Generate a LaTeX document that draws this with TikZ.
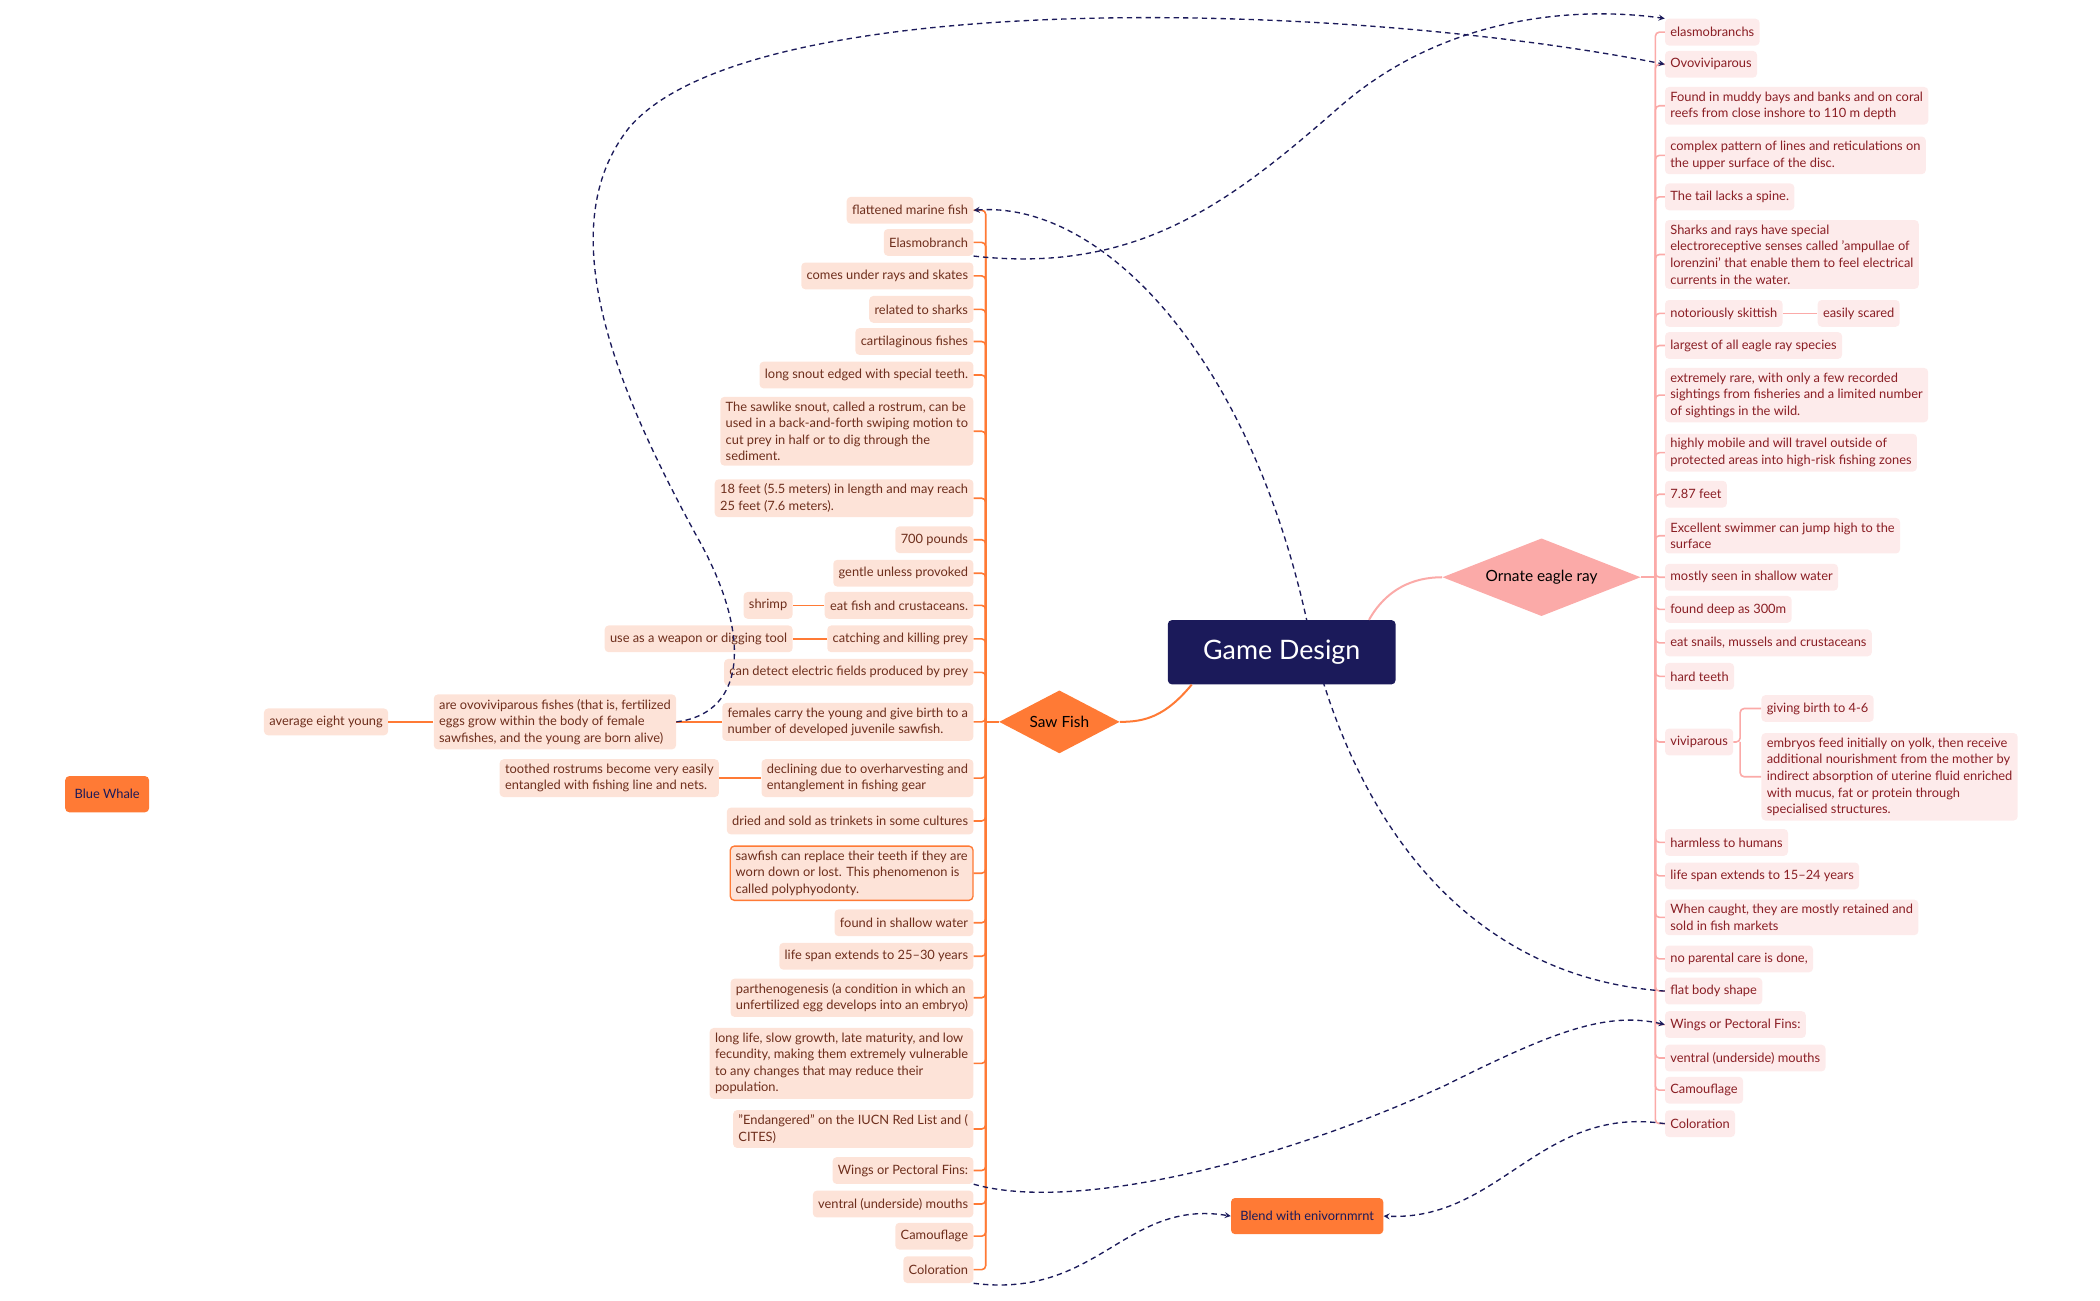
\documentclass[tikz,border=0pt]{standalone}
\usepackage{fontspec}
\setmainfont{Lato}
\usetikzlibrary{shapes.geometric, positioning, arrows}
\definecolor{navy}{HTML}{1B1A5A}
\definecolor{sforange}{HTML}{FF7A35}
\definecolor{sfpeach}{HTML}{FDE3D8}
\definecolor{sftext}{HTML}{6E2E1C}
\definecolor{erpink}{HTML}{FBAAA8}
\definecolor{erlight}{HTML}{FDEBEB}
\definecolor{ertext}{HTML}{8A1E24}
\tikzset{
  sfnode/.style={fill=sfpeach, text=sftext, rounded corners=3pt, font=\fontsize{9.6}{12.4}\selectfont, inner xsep=4pt, inner ysep=3.5pt, minimum height=20pt, align=left},
  ernode/.style={fill=erlight, text=ertext, rounded corners=3pt, font=\fontsize{9.6}{12.4}\selectfont, inner xsep=4pt, inner ysep=3.5pt, minimum height=20pt, align=left},
  sfline/.style={draw=sforange, line width=1.2pt, rounded corners=3pt},
  erline/.style={draw=erpink, line width=1.2pt, rounded corners=3pt},
  rel/.style={draw=navy, line width=1pt, dash pattern=on 4pt off 3pt, ->, >=stealth},
  boxnode/.style={fill=sforange, text=navy, rounded corners=3pt, font=\fontsize{9.6}{11}\selectfont, minimum height=27pt, inner xsep=7pt}
}
\begin{document}
\begin{tikzpicture}[x=1pt, y=-1pt]
  \useasboundingbox (0,0) rectangle (1568,971);

  % Saw fish branch
  \node[sfnode, anchor=east] (l1) at (727,157) {flattened marine fish};
  \node[sfnode, anchor=east] (l2) at (727,181) {Elasmobranch};
  \node[sfnode, anchor=east] (l3) at (727,206) {comes under rays and skates};
  \node[sfnode, anchor=east] (l4) at (727,231) {related to sharks};
  \node[sfnode, anchor=east] (l5) at (727,255) {cartilaginous fishes};
  \node[sfnode, anchor=east] (l6) at (727,280) {long snout edged with special teeth.};
  \node[sfnode, anchor=east] (l7) at (727,322) { The sawlike snout, called a rostrum, can be\\used in a back-and-forth swiping motion to\\cut prey in half or to dig through the\\sediment.};
  \node[sfnode, anchor=east] (l8) at (727,372) {18 feet (5.5 meters) in length and may reach\\25 feet (7.6 meters).};
  \node[sfnode, anchor=east] (l9) at (727,403) {700 pounds};
  \node[sfnode, anchor=east] (l10) at (727,428) {gentle unless provoked};
  \node[sfnode, anchor=east] (l11) at (727,452) {eat fish and crustaceans.};
  \node[sfnode, anchor=east] (l12) at (727,477) {catching and killing prey};
  \node[sfnode, anchor=east] (l13) at (727,502) {can detect electric fields produced by prey};
  \node[sfnode, anchor=east] (l14) at (727,539) {females carry the young and give birth to a\\number of developed juvenile sawfish.};
  \node[sfnode, anchor=east] (l15) at (727,581) {declining due to overharvesting and\\entanglement in fishing gear};
  \node[sfnode, anchor=east] (l16) at (727,613) {dried and sold as trinkets in some cultures};
  \node[sfnode, anchor=east, draw=sforange, line width=1pt] (l17) at (727,652) {sawfish can replace their teeth if they are\\worn down or lost. This phenomenon is\\called polyphyodonty.};
  \node[sfnode, anchor=east] (l18) at (727,689) {found in shallow water};
  \node[sfnode, anchor=east] (l19) at (727,714) {life span extends to 25--30 years};
  \node[sfnode, anchor=east] (l20) at (727,745) {parthenogenesis (a condition in which an\\unfertilized egg develops into an embryo)};
  \node[sfnode, anchor=east] (l21) at (727,794) { long life, slow growth, late maturity, and low\\fecundity, making them extremely vulnerable\\to any changes that may reduce their\\population.};
  \node[sfnode, anchor=east] (l22) at (727,843) { "Endangered" on the IUCN Red List and (\\CITES)};
  \node[sfnode, anchor=east] (l23) at (727,874) {Wings or Pectoral Fins:};
  \node[sfnode, anchor=east] (l24) at (727,899) {ventral (underside) mouths};
  \node[sfnode, anchor=east] (l25) at (727,923) {Camouflage};
  \node[sfnode, anchor=east] (l26) at (727,948) {Coloration};

  \node[sfnode, anchor=east] (shrimp) at (592,452) {shrimp};
  \node[sfnode, anchor=east] (weapon) at (592,477) {use as a weapon or digging tool};
  \node[sfnode, anchor=east] (ovo) at (505,539) {are ovoviviparous fishes (that is, fertilized\\eggs grow within the body of female\\sawfishes, and the young are born alive)};
  \node[sfnode, anchor=east] (eight) at (290,539) {average eight young};
  \node[sfnode, anchor=east] (toothed) at (537,581) { toothed rostrums become very easily\\entangled with fishing line and nets.};

  \node[diamond, fill=sforange, aspect=2, inner sep=1pt, minimum width=90pt, minimum height=47pt, font=\fontsize{11.5}{13}\selectfont] (saw) at (791,539) {Saw Fish};
  \coordinate (sftrunk) at (736,539);
  \draw[sfline] (saw.west) -- (sftrunk);
  \foreach \n in {l1,l2,l3,l4,l5,l6,l7,l8,l9,l10,l11,l12,l13,l14,l15,l16,l17,l18,l19,l20,l21,l22,l23,l24,l25,l26}
    \draw[sfline] (sftrunk) |- (\n.east);
  \draw[sfline] (l11.west) -- (shrimp.east);
  \draw[sfline] (l12.west) -- (weapon.east);
  \draw[sfline] (l14.west) -- (ovo.east);
  \draw[sfline] (ovo.west) -- (eight.east);
  \draw[sfline] (l15.west) -- (toothed.east);

  % Ornate eagle ray branch
  \node[ernode, anchor=west] (r1) at (1243,24) { elasmobranchs};
  \node[ernode, anchor=west] (r2) at (1243,48) { Ovoviviparous};
  \node[ernode, anchor=west] (r3) at (1243,79) {Found in muddy bays and banks and on coral\\reefs from close inshore to 110 m depth};
  \node[ernode, anchor=west] (r4) at (1243,116) { complex pattern of lines and reticulations on\\the upper surface of the disc.};
  \node[ernode, anchor=west] (r5) at (1243,147) {The tail lacks a spine.};
  \node[ernode, anchor=west] (r6) at (1243,190) {Sharks and rays have special\\electroreceptive senses called 'ampullae of\\lorenzini' that enable them to feel electrical\\currents in the water.};
  \node[ernode, anchor=west] (r7) at (1243,234) {notoriously skittish};
  \node[ernode, anchor=west] (r8) at (1243,258) { largest of all eagle ray species};
  \node[ernode, anchor=west] (r9) at (1243,295) { extremely rare, with only a few recorded\\sightings from fisheries and a limited number\\of sightings in the wild.};
  \node[ernode, anchor=west] (r10) at (1243,338) { highly mobile and will travel outside of\\protected areas into high-risk fishing zones};
  \node[ernode, anchor=west] (r11) at (1243,369) {7.87 feet};
  \node[ernode, anchor=west] (r12) at (1243,400) {Excellent swimmer can jump high to the\\surface};
  \node[ernode, anchor=west] (r13) at (1243,431) {mostly seen in shallow water};
  \node[ernode, anchor=west] (r14) at (1243,455) {found deep as 300m};
  \node[ernode, anchor=west] (r15) at (1243,480) {eat snails, mussels and crustaceans};
  \node[ernode, anchor=west] (r16) at (1243,505) {hard teeth};
  \node[ernode, anchor=west] (r17) at (1243,554) {viviparous};
  \node[ernode, anchor=west] (r18) at (1243,629) {harmless to humans};
  \node[ernode, anchor=west] (r19) at (1243,654) { life span extends to 15--24 years};
  \node[ernode, anchor=west] (r20) at (1243,685) {When caught, they are mostly retained and\\sold in fish markets};
  \node[ernode, anchor=west] (r21) at (1243,716) { no parental care is done,};
  \node[ernode, anchor=west] (r22) at (1243,740) {flat body shape};
  \node[ernode, anchor=west] (r23) at (1243,765) {Wings or Pectoral Fins:};
  \node[ernode, anchor=west] (r24) at (1243,790) {ventral (underside) mouths};
  \node[ernode, anchor=west] (r25) at (1243,814) {Camouflage};
  \node[ernode, anchor=west] (r26) at (1243,839) {Coloration};

  \node[ernode, anchor=west] (scared) at (1357,234) {easily scared};
  \node[ernode, anchor=west] (birth) at (1315,529) {giving birth to 4-6};
  \node[ernode, anchor=west] (embryo) at (1315,580) {embryos feed initially on yolk, then receive\\additional nourishment from the mother by\\indirect absorption of uterine fluid enriched\\with mucus, fat or protein through\\specialised structures.};

  \node[diamond, fill=erpink, aspect=2.5, inner sep=1pt, minimum width=148pt, minimum height=58pt, font=\fontsize{11.5}{13}\selectfont] (eagle) at (1151,431) {Ornate eagle ray};
  \coordinate (ertrunk) at (1236,431);
  \draw[erline] (eagle.east) -- (ertrunk);
  \foreach \n in {r1,r2,r3,r4,r5,r6,r7,r8,r9,r10,r11,r12,r13,r14,r15,r16,r17,r18,r19,r20,r21,r22,r23,r24,r25,r26}
    \draw[erline] (ertrunk) |- (\n.west);
  \draw[erline] (r7.east) -- (scared.west);
  \draw[erline] (r17.east) -- ++(5,0) coordinate (vtrunk) |- (birth.west);
  \draw[erline] (vtrunk) |- (embryo.west);

  % Relationships behind the central topic
  \draw[rel] (r22.west) .. controls (1100,730) and (1010,620) .. (975,460) .. controls (930,260) and (820,150) .. (l1.east);

  % Central topic
  \node[fill=navy, text=white, rounded corners=3pt, minimum width=170pt, minimum height=48pt, font=\fontsize{20}{22}\selectfont] (gd) at (957,487) {Game Design};
  \draw[sforange, line width=1.5pt] (gd.south west) ++(18,0) .. controls (870,535) and (855,539) .. (saw.east);
  \draw[erpink, line width=1.5pt] (gd.north east) ++(-20,0) .. controls (1035,440) and (1055,431) .. (eagle.west);

  \node[boxnode] (whale) at (80,593) {Blue Whale};
  \node[boxnode] (blend) at (976,908) {Blend with enivornmrnt};

  % Relationships
  \draw[rel] (ovo.east) .. controls (560,532) and (560,470) .. (520,400) .. controls (460,290) and (410,170) .. (470,95) .. controls (560,-10) and (1000,0) .. (r2.west);
  \draw[rel] (l2.south east) .. controls (850,205) and (920,150) .. (1000,80) .. controls (1080,10) and (1180,5) .. (r1.north west);
  \draw[rel] (l23.south east) .. controls (800,905) and (950,870) .. (1080,810) .. controls (1160,770) and (1200,755) .. (r23.west);
  \draw[rel] (l26.south east) .. controls (820,970) and (840,895) .. (blend.west);
  \draw[rel] (r26.west) .. controls (1150,825) and (1120,912) .. (blend.east);
\end{tikzpicture}
\end{document}
